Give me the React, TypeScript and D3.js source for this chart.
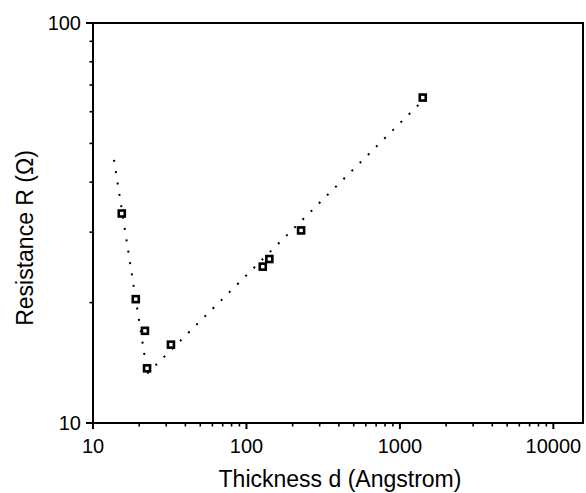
import React from "react";
import * as d3 from "d3";

// measured samples (thickness in Angstrom, resistance in Ohm)
const thickness = [15.4, 19.0, 21.8, 22.5, 32.2, 127.7, 141, 227, 1409];
const resistance = [33.4, 20.4, 17.0, 13.7, 15.7, 24.6, 25.7, 30.3, 65.1];

// dotted guide lines (two straight segments in log-log)
const fitLeftX = [13.7, 22.6];
const fitLeftY = [45.5, 13.3];
const fitRightX = [22.6, 1416];
const fitRightY = [13.3, 64.1];

const xMajor = [10, 100, 1000, 10000];
const xTickLabels = ["10", "100", "1000", "10000"];
const yMajor = [10, 100];
const yTickLabels = ["10", "100"];

const W = 586;
const H = 493;
const margin = { left: 93, right: 3, top: 23, bottom: 70 };
const font = "'Liberation Sans', Arial, Helvetica, sans-serif";

const minorTicks = (lo: number, hi: number) => {
  const out: number[] = [];
  for (let dec = lo; dec < hi; dec *= 10) {
    for (let k = 2; k <= 9; k++) out.push(dec * k);
  }
  return out;
};

export default function App() {
  const x = d3.scaleLog().domain([10, 15600]).range([margin.left, W - margin.right]);
  const y = d3.scaleLog().domain([10, 100]).range([H - margin.bottom, margin.top]);

  const xMinor = minorTicks(10, 10000).filter((v) => v < 15600);
  const yMinor = minorTicks(10, 100);

  const line = d3
    .line<[number, number]>()
    .x((d) => x(d[0]))
    .y((d) => y(d[1]));

  const left = fitLeftX.map((v, i) => [v, fitLeftY[i]] as [number, number]);
  const right = fitRightX.map((v, i) => [v, fitRightY[i]] as [number, number]);

  const x0 = margin.left;
  const x1 = W - margin.right;
  const y0 = H - margin.bottom;
  const y1 = margin.top;

  return (
    <div style={{ position: "absolute", left: 0, top: 0 }}>
      <svg width={W} height={H} style={{ display: "block", background: "#fff" }} fontFamily={font}>
        {/* guide lines */}
        {[left, right].map((seg, i) => (
          <path
            key={i}
            d={line(seg) || ""}
            fill="none"
            stroke="#000"
            strokeWidth={2}
            strokeDasharray="2 9.5"
          />
        ))}

        {/* frame */}
        <rect x={x0} y={y1} width={x1 - x0} height={y0 - y1} fill="none" stroke="#000" strokeWidth={2} />

        {/* x ticks */}
        {xMajor.map((v) => (
          <line key={"xM" + v} x1={x(v)} x2={x(v)} y1={y0} y2={y0 + 6} stroke="#000" strokeWidth={2} />
        ))}
        {xMinor.map((v) => (
          <line key={"xm" + v} x1={x(v)} x2={x(v)} y1={y0} y2={y0 + 3.5} stroke="#000" strokeWidth={1.6} />
        ))}
        {xMajor.map((v, i) => (
          <text key={"xl" + v} x={x(v)} y={y0 + 30} fontSize={20} textAnchor="middle">
            {xTickLabels[i]}
          </text>
        ))}

        {/* y ticks */}
        {yMajor.map((v) => (
          <line key={"yM" + v} x1={x0 - 7} x2={x0} y1={y(v)} y2={y(v)} stroke="#000" strokeWidth={2} />
        ))}
        {yMinor.map((v) => (
          <line key={"ym" + v} x1={x0 - 3.5} x2={x0} y1={y(v)} y2={y(v)} stroke="#000" strokeWidth={1.6} />
        ))}
        {yMajor.map((v, i) => (
          <text key={"yl" + v} x={x0 - 12} y={y(v)} dy="0.35em" fontSize={20} textAnchor="end">
            {yTickLabels[i]}
          </text>
        ))}

        {/* markers */}
        {thickness.map((t, i) => (
          <rect
            key={"p" + i}
            x={x(t) - 3}
            y={y(resistance[i]) - 3}
            width={6}
            height={6}
            fill="#fff"
            stroke="#000"
            strokeWidth={2.6}
          />
        ))}

        {/* axis titles */}
        <text x={(x0 + x1) / 2 + 2} y={H - 6} fontSize={23} textAnchor="middle">
          Thickness d (Angstrom)
        </text>
        <text
          transform={`translate(33, 238) rotate(-90)`}
          fontSize={23}
          textAnchor="middle"
        >
          Resistance R (Ω)
        </text>
      </svg>
    </div>
  );
}
